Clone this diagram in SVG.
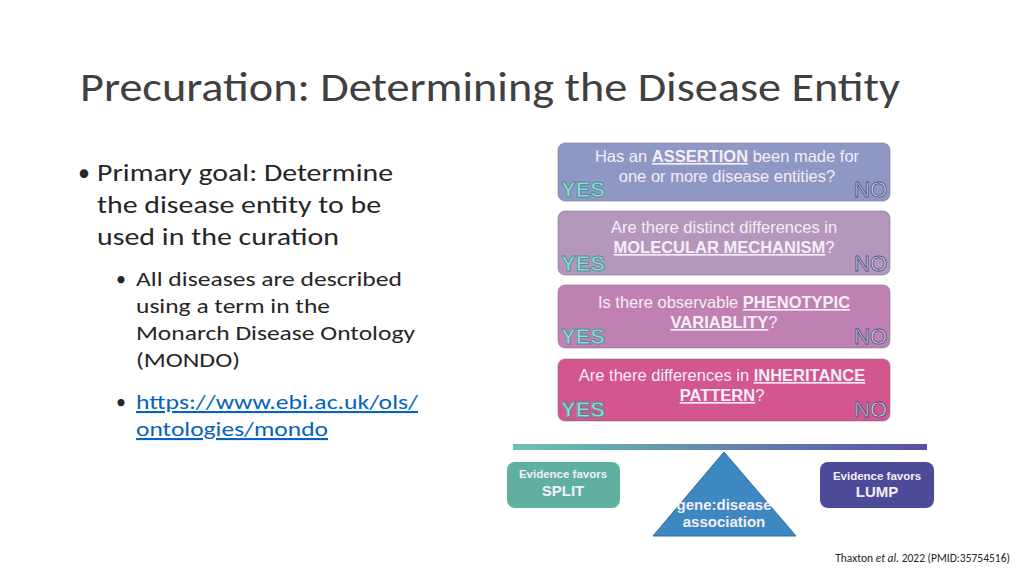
<svg xmlns="http://www.w3.org/2000/svg" width="1024" height="576" viewBox="0 0 1024 576">
<defs>
<linearGradient id="bar" x1="0" x2="1"><stop offset="0" stop-color="#6cc3b2"/><stop offset="1" stop-color="#5a4ea6"/></linearGradient>
<style>
.t{font-family:Calibri,Carlito,"Liberation Sans",sans-serif}
.a{font-family:"Liberation Sans",Arial,sans-serif;fill:#f4eef6;font-size:16.5px;text-anchor:middle}
.s{font-size:11.5px;font-weight:bold}
.b{font-size:15px;font-weight:bold}
.u{font-weight:bold;text-decoration:underline}
.y{font-family:"Liberation Sans",sans-serif;font-weight:bold;font-size:22px;fill:#8fe0d2;stroke:#4c8e9a;stroke-width:0.9}
.n{font-family:"Liberation Sans",sans-serif;font-size:22px;fill:#e8e8f4;stroke:#4a4f7e;stroke-width:0.9;text-anchor:end}
.box{stroke:#6a6a8a;stroke-width:1;stroke-opacity:.5}
</style>
</defs>
<rect width="1024" height="576" fill="#fff"/>
<text x="80" y="101" class="t" font-size="42" fill="#404040" textLength="820" lengthAdjust="spacingAndGlyphs">Precuration: Determining the Disease Entity</text>
<g class="t" fill="#262626">
<text x="78" y="181" font-size="24">•</text>
<text x="97" y="181" font-size="25" textLength="296" lengthAdjust="spacingAndGlyphs">Primary goal: Determine</text>
<text x="97" y="213" font-size="25" textLength="284" lengthAdjust="spacingAndGlyphs">the disease entity to be</text>
<text x="97" y="245" font-size="25" textLength="242" lengthAdjust="spacingAndGlyphs">used in the curation</text>
<text x="116" y="286" font-size="20">•</text>
<text x="136" y="286" font-size="21" textLength="266" lengthAdjust="spacingAndGlyphs">All diseases are described</text>
<text x="136" y="313" font-size="21" textLength="194" lengthAdjust="spacingAndGlyphs">using a term in the</text>
<text x="136" y="340" font-size="21" textLength="279" lengthAdjust="spacingAndGlyphs">Monarch Disease Ontology</text>
<text x="136" y="367" font-size="21" textLength="104" lengthAdjust="spacingAndGlyphs">(MONDO)</text>
<text x="116" y="409" font-size="20">•</text>
<text x="136" y="409" font-size="21" fill="#0563c1" text-decoration="underline" textLength="282" lengthAdjust="spacingAndGlyphs">https://www.ebi.ac.uk/ols/</text>
<text x="136" y="436" font-size="21" fill="#0563c1" text-decoration="underline" textLength="192" lengthAdjust="spacingAndGlyphs">ontologies/mondo</text>
</g>
<g id="q1"><rect class="box" x="558" y="143" width="332" height="58" rx="7" fill="#8f97c4"/>
<text class="a" x="727" y="162">Has an <tspan class="u">ASSERTION</tspan> been made for</text>
<text class="a" x="727" y="182">one or more disease entities?</text>
<text class="y" x="561" y="197">YES</text><text class="n" x="887" y="197">NO</text></g>
<g id="q2"><rect class="box" x="558" y="211" width="332" height="64" rx="7" fill="#b597bd"/>
<text class="a" x="724" y="233">Are there distinct differences in</text>
<text class="a" x="724" y="253"><tspan class="u">MOLECULAR MECHANISM</tspan>?</text>
<text class="y" x="561" y="271">YES</text><text class="n" x="887" y="271">NO</text></g>
<g id="q3"><rect class="box" x="558" y="285" width="332" height="63" rx="7" fill="#c080b1"/>
<text class="a" x="724" y="308">Is there observable <tspan class="u">PHENOTYPIC </tspan></text>
<text class="a" x="724" y="328"><tspan class="u">VARIABLITY</tspan>?</text>
<text class="y" x="561" y="344">YES</text><text class="n" x="887" y="344">NO</text></g>
<g id="q4"><rect class="box" x="558" y="359" width="332" height="62" rx="7" fill="#d3568f"/>
<text class="a" x="722" y="381">Are there differences in <tspan class="u">INHERITANCE</tspan></text>
<text class="a" x="722" y="401"><tspan class="u">PATTERN</tspan>?</text>
<text class="y" x="561" y="417">YES</text><text class="n" x="887" y="417">NO</text></g>
<g id="connectors"><rect x="513" y="444" width="414" height="6" fill="url(#bar)"/></g>
<g id="split"><rect x="507" y="462" width="113" height="46" rx="8" fill="#5fb09e"/>
<text class="a s" x="563" y="478" fill="#e6f4f0">Evidence favors</text>
<text class="a b" x="563" y="496" fill="#fff">SPLIT</text></g>
<g id="lump"><rect x="820" y="462" width="114" height="46" rx="8" fill="#4e4a9a"/>
<text class="a s" x="877" y="480" fill="#e6e6f4">Evidence favors</text>
<text class="a b" x="877" y="497" fill="#fff">LUMP</text></g>
<g id="fulcrum"><polygon points="724,452 796,536 653,536" fill="#3d88c0" stroke="#2a6a9a" stroke-width="1"/>
<text class="a b" x="724" y="510" fill="#eef">gene:disease</text>
<text class="a b" x="724" y="527" fill="#eef">association</text></g>
<text x="1010" y="562" class="t" font-size="11.5" text-anchor="end" fill="#262626">Thaxton <tspan font-style="italic">et al.</tspan> 2022 (PMID:35754516)</text>
</svg>
